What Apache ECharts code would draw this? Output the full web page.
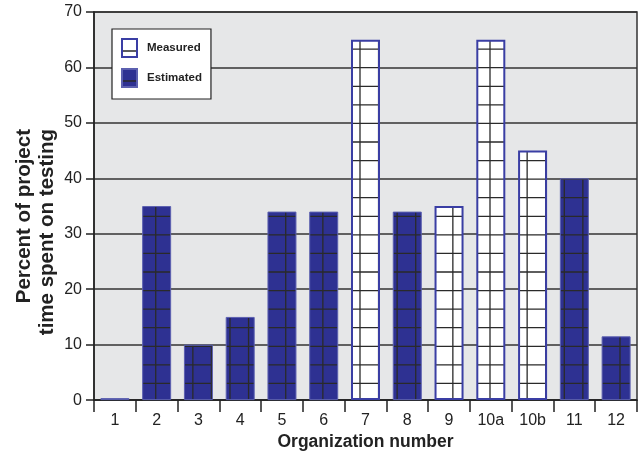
<!DOCTYPE html>
<html>
<head>
<meta charset="utf-8">
<script src="https://cdn.jsdelivr.net/npm/echarts@6/dist/echarts.min.js"></script>
<style>
html,body{margin:0;padding:0;background:#fff;}
#main{width:644px;height:456px;}
</style>
</head>
<body>
<div id="main"></div>
<script>
var categories = ['1','2','3','4','5','6','7','8','9','10a','10b','11','12'];
var measured  = [null,null,null,null,null,null,65,null,35,65,45,null,null];
var estimated = [0,35,10,15,34,34,null,34,null,null,null,40,11.5];
var yTicks = [0,10,20,30,40,50,60,70];

// plot box
var G = {left:94, top:12, width:543, height:390};

// grid hatch pattern, lined up with the plot box (whole canvas size)
function hatch(bg){
	var c = document.createElement('canvas');
	c.width = 644; c.height = 456;
	var ctx = c.getContext('2d');
	ctx.fillStyle = bg;
	ctx.fillRect(0,0,644,456);
	var step = G.height/21;
	ctx.strokeStyle = '#2a2a2a';
	ctx.lineWidth = 1.3;
	ctx.beginPath();
	for(var y=G.top+G.height; y>=G.top-1; y-=step){
		ctx.moveTo(0,y); ctx.lineTo(644,y);
	}
	for(var x=G.left+6; x<=G.left+G.width; x+=step){
		ctx.moveTo(x,0); ctx.lineTo(x,456);
	}
	ctx.stroke();
	return c;
}

var myChart = echarts.init(document.getElementById('main'));
var font = 'Liberation Sans';
var option = {
	animation:false,
	textStyle:{fontFamily:font},
	legend:{
		orient:'vertical',
		left:112, top:29,
		padding:[9,9,11,9],
		itemWidth:15, itemHeight:18, itemGap:10,
		backgroundColor:'#fff',
		borderColor:'#222', borderWidth:1.2,
		icon:'rect',
		textStyle:{fontSize:11.5, fontWeight:'bold', color:'#222', fontFamily:font, padding:[0,0,0,5]},
		data:['Measured','Estimated']
	},
	graphic:[{
		type:'text',
		x:36, y:129,
		rotation:Math.PI/2,
		style:{
			text:'Percent of project\ntime spent on testing',
			font:'bold 20.5px "Liberation Sans"',
			fill:'#222',
			align:'right', verticalAlign:'middle',
			lineHeight:23
		}
	}],
	grid:{
		left:G.left, top:G.top, width:G.width, height:G.height,
		show:true, backgroundColor:'#e6e7e8',
		borderColor:'#333', borderWidth:1.5
	},
	xAxis:{
		type:'category',
		data:categories,
		name:'Organization number',
		nameLocation:'middle',
		nameGap:27,
		nameTextStyle:{fontSize:17.5, fontWeight:'bold', color:'#222', fontFamily:font},
		axisLine:{lineStyle:{color:'#222', width:1.5}},
		axisTick:{show:true, length:12, alignWithLabel:false, lineStyle:{color:'#222', width:1.5}},
		axisLabel:{fontSize:16, color:'#222', margin:12, fontFamily:font}
	},
	yAxis:{
		type:'value',
		min:0, max:70, interval:10,
		axisLine:{show:true, lineStyle:{color:'#222', width:1.5}},
		axisTick:{show:true, length:8, lineStyle:{color:'#222', width:1.5}},
		axisLabel:{fontSize:16, color:'#222', margin:12, fontFamily:font,
			formatter:function(v){ return yTicks.indexOf(v) >= 0 ? String(v) : ''; }},
		splitLine:{show:true, lineStyle:{color:'#333', width:1.5}}
	},
	series:[
		{
			name:'Measured', type:'bar',
			data:measured,
			barWidth:29, barGap:'-100%',
			itemStyle:{color:{image:hatch('#ffffff'), repeat:'no-repeat'}, borderColor:'#3a3ea4', borderWidth:2}
		},
		{
			name:'Estimated', type:'bar',
			data:estimated,
			barWidth:29, barMinHeight:2,
			itemStyle:{color:{image:hatch('#2e3192'), repeat:'no-repeat'}, borderColor:'#5c60b0', borderWidth:1}
		}
	]
};
myChart.setOption(option);
</script>
</body>
</html>
